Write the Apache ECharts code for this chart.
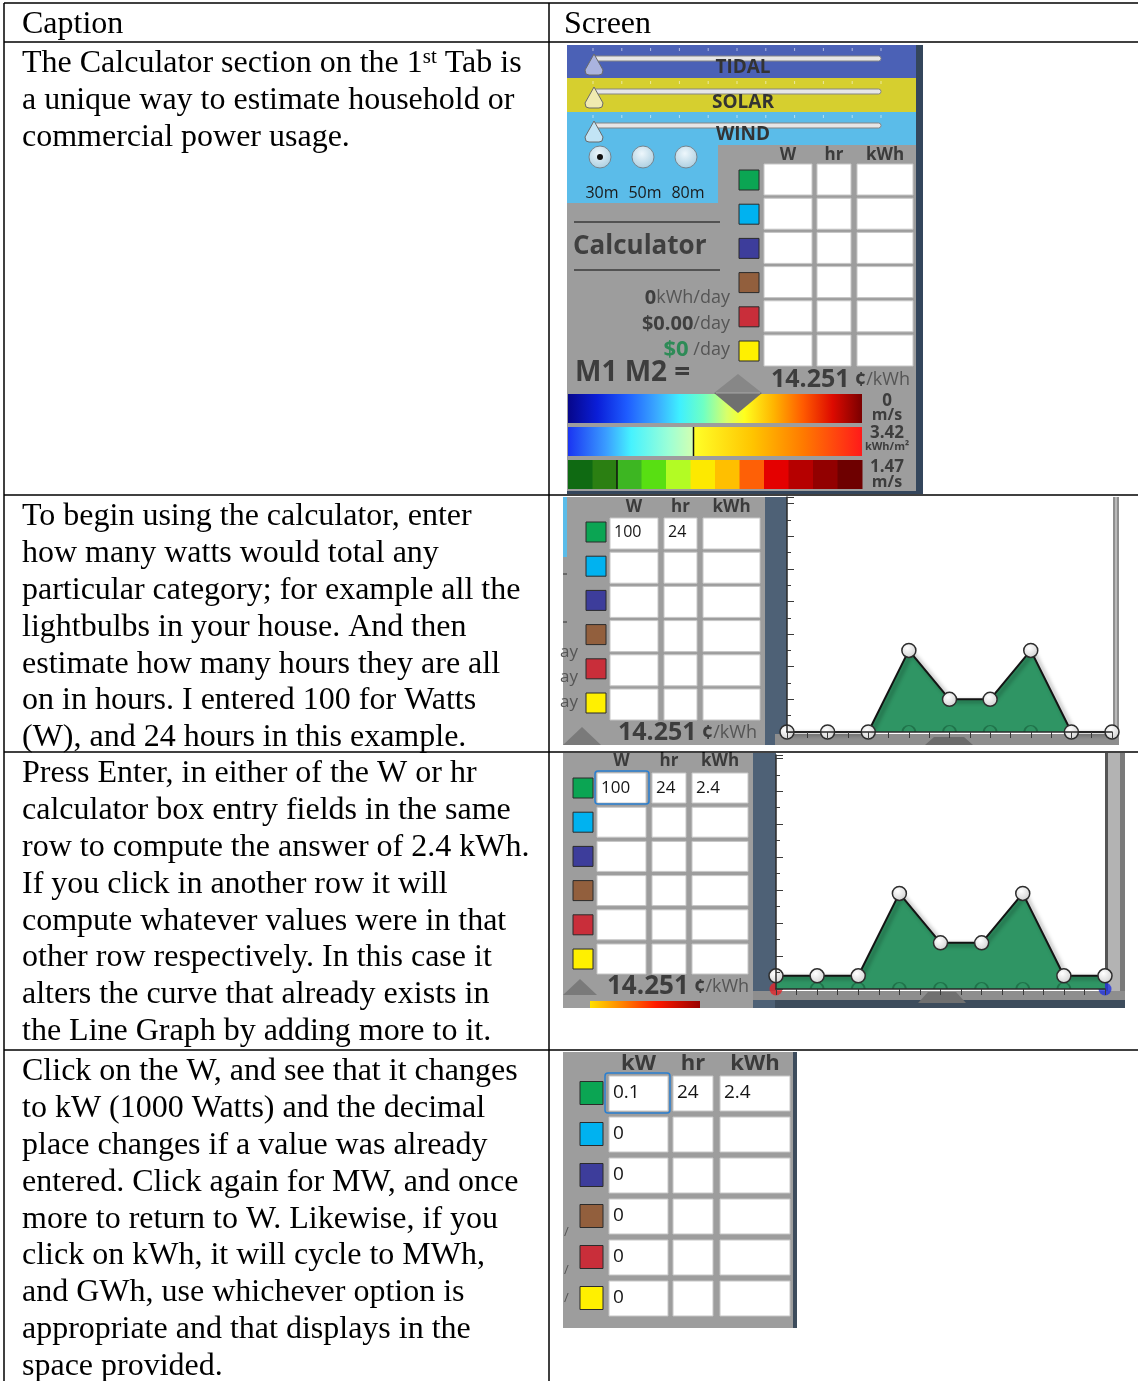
<!DOCTYPE html>
<html><head><meta charset="utf-8"><title>Calculator walkthrough</title>
<script src="https://cdn.jsdelivr.net/npm/echarts@6.0.0/dist/echarts.min.js"></script>
<style>html,body{margin:0;padding:0;background:#fff;overflow:hidden}#c{width:1138px;height:1381px}</style>
</head><body><div id="c"></div>
<script>
// ---------------- data ----------------
const tableHeaders = ['Caption', 'Screen'];
const row1Lines = ['The Calculator section on the 1^st^ Tab is', 'a unique way to estimate household or', 'commercial power usage.'];
const row2Lines = ['To begin using the calculator, enter', 'how many watts would total any', 'particular category; for example all the', 'lightbulbs in your house. And then', 'estimate how many hours they are all', 'on in hours. I entered 100 for Watts', '(W), and 24 hours in this example.'];
const row3Lines = ['Press Enter, in either of the W or hr', 'calculator box entry fields in the same', 'row to compute the answer of 2.4 kWh.', 'If you click in another row it will', 'compute whatever values were in that', 'other row respectively. In this case it', 'alters the curve that already exists in', 'the Line Graph by adding more to it.'];
const row4Lines = ['Click on the W, and see that it changes', 'to kW (1000 Watts) and the decimal', 'place changes if a value was already', 'entered. Click again for MW, and once', 'more to return to W. Likewise, if you', 'click on kWh, it will cycle to MWh,', 'and GWh, use whichever option is', 'appropriate and that displays in the', 'space provided.'];
const sliderLabels = ['TIDAL', 'SOLAR', 'WIND'];
const heightLabels = ['30m', '50m', '80m'];
const calcHeadersW = ['W', 'hr', 'kWh'];
const calcHeadersKW = ['kW', 'hr', 'kWh'];
const categoryColors = ['#0ba553', '#00b2f0', '#3d3d9b', '#925f3d', '#c92e3a', '#fff000'];
const dailySummary = ['0', '$0.00', '$0'];
const summaryUnits = ['kWh/day', '/day', ' /day'];
const rateValue = '14.251';
const rateUnits = [' ¢', '/kWh'];
const scaleValues = ['0', '3.42', '1.47'];
const scaleUnits = ['m/s', 'kWh/m²', 'm/s'];
const windClassColors = ['#0f6a12', '#2b7f12', '#3db622', '#58df12', '#b3fb24', '#fde900', '#ffbf00', '#fe6006', '#e40000', '#b60000', '#920000', '#6e0000'];
const entriesBlank = [['', '', ''], ['', '', ''], ['', '', ''], ['', '', ''], ['', '', ''], ['', '', '']];
const entriesStep1 = [['100', '24', ''], ['', '', ''], ['', '', ''], ['', '', ''], ['', '', ''], ['', '', '']];
const entriesStep2 = [['100', '24', '2.4'], ['', '', ''], ['', '', ''], ['', '', ''], ['', '', ''], ['', '', '']];
const entriesStep3 = [['0.1', '24', '2.4'], ['0', '', ''], ['0', '', ''], ['0', '', ''], ['0', '', ''], ['0', '', '']];
const hourSlots = [0, 1, 2, 3, 4, 5, 6, 7, 8];
const loadStep1 = [0, 0, 0, 2.5, 1, 1, 2.5, 0, 0];
const loadStep2 = [0.4, 0.4, 0.4, 2.9, 1.4, 1.4, 2.9, 0.4, 0.4];

// ---------------- helpers ----------------
const SERIF = '"Liberation Serif","Times New Roman",serif';
const UI = '"Open Sans","Noto Sans",sans-serif';
const fnt = (w, s, fam) => w + ' ' + s + 'px ' + fam;
const G = [];
function add(el, z) { el.z = (z == null ? 0 : z); el.silent = true; G.push(el); return el; }
function R(x, y, w, h, fill, o) {
  o = o || {};
  return add({ type: 'rect', shape: { x: x, y: y, width: w, height: h, r: o.r || 0 },
    style: { fill: fill, stroke: o.stroke || null, lineWidth: o.lw || 0 } }, o.z);
}
function L(x1, y1, x2, y2, stroke, lw, z) {
  return add({ type: 'line', shape: { x1: x1, y1: y1, x2: x2, y2: y2 }, style: { stroke: stroke, lineWidth: lw || 1 } }, z);
}
function T(x, y, text, font, fill, align, z, rich) {
  const st = { text: text, font: font, fill: fill, align: align || 'left', verticalAlign: 'middle',
    textAlign: align || 'left', textVerticalAlign: 'middle' };
  if (rich) st.rich = rich;
  return add({ type: 'text', x: x, y: y, style: st }, z);
}
function P(points, fill, stroke, z) {
  return add({ type: 'polygon', shape: { points: points }, style: { fill: fill, stroke: stroke || null, lineWidth: stroke ? 1 : 0 } }, z);
}
function C(cx, cy, r, fill, stroke, z) {
  return add({ type: 'circle', shape: { cx: cx, cy: cy, r: r }, style: { fill: fill, stroke: stroke || null, lineWidth: stroke ? 1 : 0 } }, z);
}
function lin(stops) { return { type: 'linear', x: 0, y: 0, x2: 1, y2: 0, colorStops: stops.map(s => ({ offset: s[0], color: s[1] })) }; }
const mctx = document.createElement('canvas').getContext('2d');
function tw(text, font) { mctx.font = font; return mctx.measureText(text).width; }

// ---------------- captions ----------------
const LH = 36.8, CX = 22, CAP = fnt('normal', 32, SERIF), SUP = fnt('normal', 21, SERIF);
function para(lines, cy0) {
  lines.forEach((ln, i) => {
    const y = cy0 + i * LH;
    if (ln.indexOf('^') >= 0) {
      const parts = ln.split('^');
      const wa = tw(parts[0], CAP), ws = tw(parts[1], SUP);
      T(CX, y, parts[0], CAP, '#000');
      T(CX + wa, y - 7, parts[1], SUP, '#000');
      T(CX + wa + ws, y, parts[2], CAP, '#000');
    } else T(CX, y, ln, CAP, '#000');
  });
}
T(CX, 25, tableHeaders[0], CAP, '#000');
T(564, 25, tableHeaders[1], CAP, '#000');
para(row1Lines, 64);
para(row2Lines, 517);
para(row3Lines, 774);
para(row4Lines, 1072);

// ---------------- calculator grid ----------------
const GRAY = '#9d9d9d', SLATE = '#4e6176', DARK = '#34465c';
function drawCalc(cfg, headers, entries) {
  headers.forEach((h, j) => T(cfg.cols[j][0] + cfg.cols[j][1] / 2, cfg.headY, h, cfg.headFont, '#3b3b3b', 'center'));
  categoryColors.forEach((col, i) => {
    const cy = cfg.cy0 + cfg.pitch * i;
    R(cfg.swX, cy - cfg.sw / 2, cfg.sw, cfg.sw, col, { stroke: '#2b2b2b', lw: 1 });
    cfg.cols.forEach((c, j) => {
      R(c[0], cy + cfg.off, c[1], cfg.cellH, '#ffffff', { stroke: '#c6c6c6', lw: 1 });
      const v = entries[i][j];
      if (v) T(c[0] + 4, cy, v, cfg.entryFont, '#151515', 'left');
    });
  });
}
function rateText(x, y, big) {
  T(x, y, '{b|' + rateValue + '}{c|' + rateUnits[0] + '}{n|' + rateUnits[1] + '}', fnt('bold', big, UI), '#3d3d3d', 'left', 0, {
    b: { font: fnt('bold', big, UI), fill: '#3d3d3d' },
    c: { font: fnt('bold', 20, UI), fill: '#3d3d3d' },
    n: { font: fnt('normal', 18, UI), fill: '#555' }
  });
}

// ---------------- image 1 (top) ----------------
R(567, 45, 356, 449, GRAY);
const bandTop = [45, 78, 112], bandH = [33, 34, 33];
const bandCol = ['#4b61b6', '#d6cf2f', '#5bbce9'];
const thumbCol = ['#aab3df', '#f0eab0', '#c2e4f5'];
const labelDy = [23, 25, 23];
R(567, 145, 151, 58, bandCol[2]);
sliderLabels.forEach((lab, i) => {
  const yt = bandTop[i];
  R(567, yt, 350, bandH[i], bandCol[i]);
  for (let k = 0; k <= 10; k++) L(593 + k * 28.8, yt + 3, 593 + k * 28.8, yt + 6, 'rgba(255,255,255,0.55)', 1);
  R(593, yt + 11, 288, 5, '#e6e6e6', { r: 2.5, stroke: '#858585', lw: 1 });
  P([[594, yt + 9], [603, yt + 25], [602, yt + 29], [599, yt + 30], [589, yt + 30], [586, yt + 29], [585, yt + 25]], thumbCol[i], '#6a6a6a');
  T(743, yt + labelDy[i], lab, fnt('bold', 19, UI), '#333', 'center');
});
const radioGrad = { type: 'radial', x: 0.45, y: 0.35, r: 0.75, colorStops: [{ offset: 0, color: '#eef7fc' }, { offset: 1, color: '#a3c9dc' }] };
heightLabels.forEach((lab, i) => {
  const cx = 600 + i * 43;
  C(cx, 157, 11, radioGrad, '#74848e');
  if (i === 0) C(cx, 157, 3, '#111');
  T(cx + 2, 193, lab, fnt('normal', 16, UI), '#1a1a1a', 'center');
});
L(574, 222, 720, 222, '#3a3a3a', 1.5);
T(573, 247, 'Calculator', fnt('bold', 26, UI), '#3f3f3f');
L(574, 270, 720, 270, '#3a3a3a', 1.5);
const sumY = [298, 324, 350];
dailySummary.forEach((v, i) => {
  T(730, sumY[i], '{b|' + v + '}{n|' + summaryUnits[i] + '}', fnt('bold', 20, UI), '#3f3f3f', 'right', 0, {
    b: { font: fnt('bold', i === 2 ? 22 : 20, UI), fill: i === 2 ? '#2e8b57' : '#3f3f3f' },
    n: { font: fnt('normal', 18, UI), fill: '#555' }
  });
});
T(575, 373, 'M1 M2 =', fnt('bold', 28, UI), '#3d3d3d');
rateText(771, 380, 25);
drawCalc({ swX: 739, sw: 20, cy0: 180, pitch: 34.2, off: -16, cellH: 31, cols: [[764, 48], [817, 34], [857, 56]],
  headY: 155, headFont: fnt('bold', 17, UI), entryFont: fnt('normal', 17, UI) }, calcHeadersW, entriesBlank);
// colour scales
R(568, 394, 294, 29, lin([[0, '#06068a'], [0.1, '#0a1ed8'], [0.2, '#1e5cff'], [0.3, '#3aa8ff'], [0.38, '#3ff0ff'], [0.46, '#6effc4'], [0.54, '#d8ff6a'], [0.6, '#ffff1e'], [0.7, '#ffb400'], [0.8, '#ff5a00'], [0.9, '#dd0a00'], [1, '#7a0000']]));
R(568, 427, 126, 29, lin([[0, '#1a34f2'], [0.3, '#3a9cff'], [0.5, '#46f2ff'], [0.8, '#9cffd6'], [1, '#d4ffb0']]));
R(694, 427, 168, 29, lin([[0, '#ffff28'], [0.35, '#ffc400'], [0.65, '#ff7a00'], [1, '#ff1a1a']]));
L(693.5, 427, 693.5, 456, '#111', 1.5);
windClassColors.forEach((c, k) => R(568 + k * 24.5, 460, 25, 29, c));
L(617, 460, 617, 489, '#111', 1.5);
P([[714, 393], [738, 374], [762, 393]], '#878787');
P([[714, 393], [762, 393], [738, 413]], '#6f6f6f');
L(716, 393, 760, 393, '#a8a8a8', 1);
const scY = [[401, 415], [433, 447], [467, 482]];
scaleValues.forEach((v, i) => {
  T(887, scY[i][0], v, fnt('bold', 17, UI), '#3d3d3d', 'center');
  T(887, scY[i][1], scaleUnits[i], fnt('bold', i === 1 ? 11 : 16, UI), '#3d3d3d', 'center');
});
R(916, 45, 7, 449, DARK);
R(567, 491, 356, 3, DARK);

// ---------------- image 2 ----------------
R(563, 497, 202, 248, GRAY);
R(563, 497, 4, 60, '#5bbce9');
R(765, 497, 22, 248, SLATE);
R(787, 497, 326, 236, '#ffffff');
R(1113, 497, 6, 248, '#8f8f8f'); R(1115, 497, 2, 248, '#bababa');
R(775, 734, 344, 11, '#8e8e8e');
P([[925, 745], [934, 737], [964, 737], [973, 745]], '#6c6c6c');
drawCalc({ swX: 586, sw: 20, cy0: 532, pitch: 34.2, off: -14, cellH: 31, cols: [[610, 48], [664, 33], [703, 57]],
  headY: 507, headFont: fnt('bold', 17, UI), entryFont: fnt('normal', 16, UI) }, calcHeadersW, entriesStep1);
rateText(618, 733, 25);
P([[563, 745], [582, 727], [601, 745]], '#7a7a7a');
[652, 677, 702].forEach(y => T(578, y, 'ay', fnt('normal', 17, UI), '#555', 'right'));
L(563, 574, 567, 574, '#333', 1); L(563, 622, 567, 622, '#333', 1);

// ---------------- image 3 ----------------
R(563, 753, 190, 255, GRAY);
R(753, 753, 23, 255, SLATE);
R(776, 753, 331, 236, '#ffffff');
R(1105, 753, 3, 247, '#555'); R(1108, 753, 12, 247, '#b3b3b3'); R(1120, 753, 5, 247, '#7a7a7a');
R(753, 991, 372, 9, '#8e8e8e');
R(775, 1000, 350, 8, '#3d4c5c');
P([[918, 1003], [928, 992], [956, 992], [966, 1003]], '#707070');
drawCalc({ swX: 573, sw: 20, cy0: 788, pitch: 34.2, off: -15, cellH: 30, cols: [[597, 49], [652, 34], [692, 56]],
  headY: 761, headFont: fnt('bold', 17, UI), entryFont: fnt('normal', 17, UI) }, calcHeadersW, entriesStep2);
R(595, 771, 54, 33, 'rgba(0,0,0,0)', { r: 3, stroke: '#2a7fd0', lw: 1.5 });
rateText(607, 987, 26);
P([[563, 995], [580, 979], [597, 995]], '#7a7a7a');
R(590, 1001, 110, 7, lin([[0, '#ffe000'], [0.3, '#ff8000'], [0.6, '#ff1a00'], [1, '#9a0000']]));

// ---------------- image 4 ----------------
R(563, 1052, 234, 276, GRAY);
R(793, 1052, 4, 276, '#3d4c5c');
drawCalc({ swX: 580, sw: 23, cy0: 1093, pitch: 41, off: -17, cellH: 35, cols: [[609, 59], [673, 40], [720, 70]],
  headY: 1064, headFont: fnt('bold', 22, UI), entryFont: fnt('normal', 19, UI) }, calcHeadersKW, entriesStep3);
R(605, 1073, 65, 40, 'rgba(0,0,0,0)', { r: 3, stroke: '#2a7fd0', lw: 1.5 });
[1232, 1270, 1298].forEach(y => T(564, y, '/', fnt('normal', 13, UI), '#555', 'left'));

// ---------------- table rules ----------------
const TL = 6;
[3, 42, 495, 752, 1050].forEach(y => L(4, y, 1138, y, '#000', 1.5, TL));
[4, 549].forEach(x => L(x, 3, x, 1381, '#000', 1.5, TL));

// ---------------- charts ----------------
const pairs = vals => hourSlots.map((h, i) => [h, vals[i]]);
const markerFill = { type: 'radial', x: 0.4, y: 0.35, r: 0.75, colorStops: [{ offset: 0, color: '#ffffff' }, { offset: 1, color: '#cccccc' }] };
function axes(gi, ymax) {
  return {
    x: { gridIndex: gi, type: 'value', min: 0, max: 8, interval: 0.5, z: 5, silent: true,
      axisLine: { show: true, onZero: false, lineStyle: { color: '#2a2a2a', width: 1.5 } },
      axisTick: { show: true, inside: false, length: 6, lineStyle: { color: '#3a3a3a', width: 1 } },
      axisLabel: { show: false }, splitLine: { show: false } },
    y: { gridIndex: gi, type: 'value', min: 0, max: ymax, interval: 1, z: 5, silent: true,
      axisLine: { show: true, onZero: false, lineStyle: { color: '#2a2a2a', width: 1.5 } },
      axisTick: { show: true, inside: true, length: 7, lineStyle: { color: '#3a3a3a', width: 1 } },
      minorTick: { show: true, splitNumber: 2, length: 4, lineStyle: { color: '#3a3a3a', width: 1 } },
      axisLabel: { show: false }, splitLine: { show: false } }
  };
}
function seriesFor(gi, vals, withEnds) {
  const out = [];
  out.push({ type: 'line', name: 'load ' + gi, xAxisIndex: gi, yAxisIndex: gi, data: pairs(vals), showSymbol: false, symbol: 'none',
    clip: false, z: 2, silent: true,
    lineStyle: { color: '#141414', width: 2, shadowColor: 'rgba(0,0,0,0.45)', shadowBlur: 4, shadowOffsetX: 3, shadowOffsetY: 2 },
    areaStyle: { color: '#2f9564', opacity: 1 } });
  out.push({ type: 'scatter', xAxisIndex: gi, yAxisIndex: gi, clip: false, z: 3, silent: true,
    data: hourSlots.filter((h, i) => i > 0 && i < hourSlots.length - 1 && vals[i] > 0).map(h => [h, 0]),
    symbol: 'path://M0,10 A10,10 0 0 1 20,10', symbolSize: [13, 6.5], symbolOffset: [0, '-50%'],
    itemStyle: { color: 'rgba(0,0,0,0)', borderColor: '#1c6a43', borderWidth: 1.5 } });
  if (withEnds) out.push({ type: 'scatter', xAxisIndex: gi, yAxisIndex: gi, clip: false, z: 1, silent: true, symbolSize: 13,
    data: [{ value: [hourSlots[0], 0], itemStyle: { color: '#e3262b' } }, { value: [hourSlots[hourSlots.length - 1], 0], itemStyle: { color: '#2233dd' } }] });
  out.push({ type: 'scatter', xAxisIndex: gi, yAxisIndex: gi, clip: false, z: 4, silent: true, data: pairs(vals),
    symbol: 'circle', symbolSize: 14, itemStyle: { color: markerFill, borderColor: '#2d2d2d', borderWidth: 1.5, opacity: 1 } });
  return out;
}
const a0 = axes(0, 7.2), a1 = axes(1, 7.1);
const option = {
  animation: false,
  backgroundColor: '#ffffff',
  grid: [
    { left: 787, top: 497, width: 325, height: 235, containLabel: false },
    { left: 776, top: 755, width: 329, height: 234, containLabel: false }
  ],
  xAxis: [a0.x, a1.x],
  yAxis: [a0.y, a1.y],
  series: seriesFor(0, loadStep1, false).concat(seriesFor(1, loadStep2, true)),
  graphic: { elements: G }
};
const chart = echarts.init(document.getElementById('c'), null, { renderer: 'canvas', width: 1138, height: 1381 });
chart.setOption(option);
</script></body></html>
